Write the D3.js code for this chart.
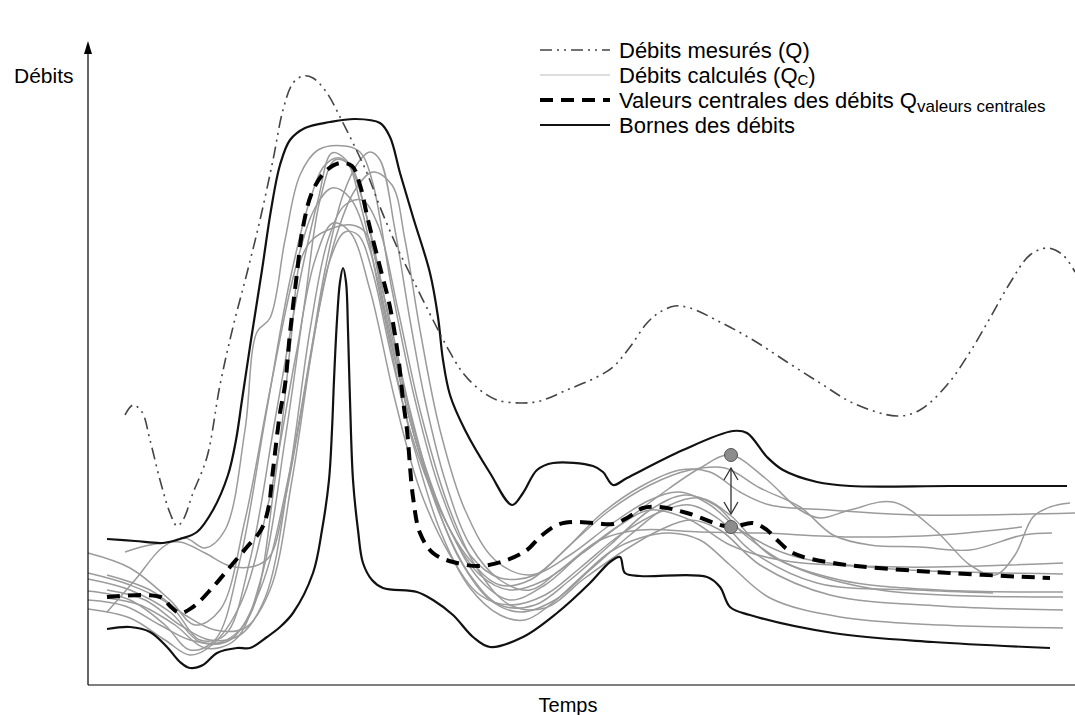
<!DOCTYPE html>
<html lang="fr">
  <head>
    <meta charset="utf-8" />
    <title>Débits</title>
    <script src="https://cdn.jsdelivr.net/npm/d3@7"></script>
    <style>
      body { margin: 0; background: #fff; }
      text { font-family: Arial, "Liberation Sans", sans-serif; fill: #000; }
    </style>
  </head>
  <body>
    <script>
      // [temps, débit] (unités arbitraires)
      const mesures = [[37,270],[45,280],[54,273],[62,245],[72,205],[82,172],[89,159],[95,165],[105,192],[119,228],[132,300],[145,358],[159,412],[172,465],[185,525],[195,575],[205,602],[215,609],[225,607],[239,592],[252,568],[265,542],[279,512],[292,478],[309,438],[325,405],[345,365],[359,338],[375,312],[392,295],[409,285],[432,282],[452,284],[479,295],[509,308],[525,318],[542,338],[559,362],[572,373],[587,379],[602,377],[632,363],[665,345],[699,323],[732,302],[765,282],[809,269],[832,275],[859,300],[882,333],[902,367],[922,402],[942,430],[960,437],[975,430],[987,413]];

      const borneSup = [[19,146],[47,144],[75,142],[92,146],[109,153],[125,175],[140,210],[148,245],[154,285],[163,345],[174,415],[183,475],[192,520],[202,545],[217,557],[242,563],[267,566],[292,562],[302,548],[312,512],[325,468],[342,412],[350,368],[355,325],[362,290],[377,255],[402,212],[424,180],[435,192],[449,215],[465,222],[505,219],[515,213],[525,200],[539,207],[595,235],[645,254],[659,252],[679,228],[695,215],[729,203],[762,199],[862,199],[979,199]];

      const borneInf = [[19,56],[42,58],[62,53],[79,38],[92,23],[102,17],[115,20],[129,32],[149,37],[162,37],[179,48],[192,58],[205,72],[225,112],[234,155],[241,205],[244,255],[246,305],[249,365],[252,403],[255,417],[258,403],[260,355],[262,285],[265,205],[270,155],[275,122],[284,105],[295,97],[329,93],[345,85],[365,70],[385,48],[402,38],[435,48],[469,72],[502,102],[522,123],[532,128],[537,112],[552,109],[619,108],[632,98],[642,78],[662,70],[745,52],[845,43],[962,37]];

      const centrales = [[19,88],[59,90],[75,87],[82,79],[92,72],[105,78],[125,98],[142,118],[159,138],[173,155],[180,175],[185,215],[192,272],[197,300],[202,352],[209,412],[215,458],[225,495],[239,515],[252,522],[264,519],[272,500],[280,465],[292,418],[302,378],[310,330],[315,285],[319,255],[325,188],[332,152],[345,132],[365,123],[392,119],[419,125],[439,135],[452,148],[469,160],[485,163],[505,162],[525,161],[539,167],[555,177],[572,178],[599,172],[642,158],[665,162],[679,155],[689,145],[705,132],[745,122],[845,113],[962,107]];

      const calcules = [
        [[0,94],[42,85],[77,60],[102,35],[127,45],[152,125],[177,265],[202,405],[222,485],[237,520],[252,527],[264,515],[282,455],[307,335],[332,235],[362,155],[392,110],[422,95],[457,105],[492,130],[532,160],[572,190],[612,217],[642,230],[677,207],[712,175],[732,167],[762,175],[805,183],[847,155],[882,120],[907,110],[927,130],[945,168],[962,178],[982,182]],
        [[19,73],[47,105],[75,138],[97,147],[117,137],[137,155],[157,255],[169,353],[182,367],[197,445],[212,510],[230,535],[257,539],[272,533],[284,505],[304,395],[327,285],[352,195],[382,130],[412,107],[447,110],[477,135],[512,170],[552,198],[592,215],[622,213],[652,193],[682,180],[742,175],[832,170],[987,172]],
        [[0,112],[42,100],[82,80],[112,45],[137,50],[162,125],[187,265],[212,405],[230,485],[244,532],[258,525],[274,475],[297,365],[322,255],[352,175],[382,125],[412,100],[442,105],[482,140],[522,175],[562,200],[602,215],[637,217],[672,197],[712,178],[745,150],[782,140],[832,138],[882,135],[935,150],[964,152]],
        [[37,133],[62,140],[92,143],[117,132],[142,119],[167,119],[182,129],[197,185],[217,295],[237,415],[255,490],[272,525],[282,533],[292,525],[307,455],[322,365],[337,285],[357,205],[382,140],[412,105],[442,95],[472,115],[512,145],[552,155],[612,153],[672,152],[762,148],[852,150],[934,158]],
        [[0,132],[42,117],[82,85],[107,60],[132,75],[157,165],[182,295],[207,415],[227,477],[244,497],[262,487],[282,435],[307,325],[332,230],[362,155],[392,105],[422,85],[457,100],[492,130],[532,160],[562,175],[602,165],[642,140],[692,125],[812,118],[975,122]],
        [[0,106],[42,95],[82,73],[112,43],[142,45],[172,95],[202,215],[227,355],[247,445],[267,495],[285,513],[304,500],[317,445],[332,355],[352,255],[377,175],[407,125],[442,110],[482,130],[522,160],[562,185],[592,193],[622,180],[652,155],[702,130],[792,117],[975,111]],
        [[0,76],[42,67],[77,45],[102,30],[124,40],[152,80],[180,180],[207,325],[227,425],[245,462],[262,453],[282,395],[307,285],[332,195],[362,130],[392,90],[422,80],[457,90],[492,117],[532,150],[572,173],[602,180],[632,165],[662,135],[729,102],[829,95],[905,92]],
        [[0,85],[37,79],[72,60],[102,45],[134,43],[162,70],[187,205],[204,355],[212,423],[224,445],[245,457],[264,460],[277,453],[297,385],[322,275],[347,185],[372,125],[402,85],[432,73],[467,85],[502,115],[542,150],[582,180],[612,187],[642,170],[682,130],[752,105],[852,95],[975,93]],
        [[19,87],[52,80],[87,60],[117,37],[147,45],[174,110],[197,245],[217,385],[232,485],[247,525],[262,520],[277,475],[297,375],[322,265],[352,170],[382,110],[412,80],[447,80],[482,105],[522,140],[562,175],[597,190],[627,180],[657,150],[702,120],[792,95],[975,88]],
        [[19,95],[57,85],[92,60],[122,45],[152,50],[177,87],[202,215],[222,355],[240,445],[257,480],[274,485],[290,460],[310,375],[332,275],[360,180],[390,115],[422,80],[457,77],[497,107],[537,135],[572,155],[602,165],[632,155],[672,120],[742,90],[852,79],[975,75]],
        [[19,110],[62,95],[97,70],[127,55],[157,57],[182,95],[204,205],[224,335],[242,425],[257,453],[270,450],[284,415],[302,335],[324,245],[352,155],[382,97],[412,70],[437,65],[462,80],[492,107],[522,133],[552,147],[582,152],[612,145],[642,120],[682,87],[752,68],[852,60],[975,57]]
      ];

      // écart entre un débit calculé et la valeur centrale
      const ecart = { t: 643, haut: 230, bas: 158 };

      const legende = [
        { label: "Débits mesurés (Q)", style: "mesure" },
        { label: "Débits calculés (Q", sub: "C", after: ")", style: "calc" },
        { label: "Valeurs centrales des débits Q", sub: "valeurs centrales", style: "centre" },
        { label: "Bornes des débits", style: "borne" }
      ];

      const styles = {
        mesure: { stroke: "#444", width: 1.6, dash: "12,5,2,5,2,5" },
        calc: { stroke: "#9b9b9b", width: 1.5, dash: null },
        centre: { stroke: "#000", width: 4, dash: "13,8" },
        borne: { stroke: "#111", width: 2.2, dash: null }
      };

      const W = 1075, H = 715;

      const svg = d3.select("body").append("svg")
        .attr("width", W)
        .attr("height", H);

      const x = d3.scaleLinear().domain([0, 987]).range([88, 1075]);
      const y = d3.scaleLinear().domain([0, 640]).range([685, 45]);

      const line = d3.line()
        .x(d => x(d[0]))
        .y(d => y(d[1]))
        .curve(d3.curveCatmullRom.alpha(0.5));

      function trace(data, s) {
        const st = styles[s];
        svg.append("path")
          .attr("d", line(data))
          .attr("fill", "none")
          .attr("stroke", st.stroke)
          .attr("stroke-width", st.width)
          .attr("stroke-dasharray", st.dash)
          .attr("stroke-linejoin", "round");
      }

      // débits calculés
      calcules.forEach(c => trace(c, "calc"));
      // bornes
      trace(borneSup, "borne");
      trace(borneInf, "borne");
      // valeurs centrales
      trace(centrales, "centre");
      // débits mesurés
      trace(mesures, "mesure");

      // axes
      svg.append("line")
        .attr("x1", x(0)).attr("y1", y(0))
        .attr("x2", x(987)).attr("y2", y(0))
        .attr("stroke", "#000").attr("stroke-width", 1.2);
      svg.append("line")
        .attr("x1", x(0)).attr("y1", y(0))
        .attr("x2", x(0)).attr("y2", 50)
        .attr("stroke", "#000").attr("stroke-width", 1.2);
      svg.append("path")
        .attr("d", `M${x(0)},41 L${x(0) - 4},54 L${x(0) + 4},54 Z`)
        .attr("fill", "#000");

      svg.append("text").attr("x", 14).attr("y", 83)
        .attr("font-size", 21).text("Débits");
      svg.append("text").attr("x", 568).attr("y", 712)
        .attr("text-anchor", "middle")
        .attr("font-size", 20).text("Temps");

      // flèche double + points
      const ax = x(ecart.t);
      const yTop = y(ecart.haut) + 13, yBot = y(ecart.bas) - 13;
      svg.append("line")
        .attr("x1", ax).attr("y1", yTop).attr("x2", ax).attr("y2", yBot)
        .attr("stroke", "#333").attr("stroke-width", 1.3);
      svg.append("path")
        .attr("d", `M${ax - 7},${yTop + 12} L${ax},${yTop} L${ax + 7},${yTop + 12}
                    M${ax - 7},${yBot - 12} L${ax},${yBot} L${ax + 7},${yBot - 12}`)
        .attr("fill", "none").attr("stroke", "#333").attr("stroke-width", 1.3);
      svg.selectAll("circle.pt")
        .data([ecart.haut, ecart.bas])
        .enter()
        .append("circle")
        .attr("class", "pt")
        .attr("cx", ax)
        .attr("cy", d => y(d))
        .attr("r", 6.5)
        .attr("fill", "#8c8c8c")
        .attr("stroke", "#555")
        .attr("stroke-width", 1);

      // légende
      const leg = svg.append("g");
      legende.forEach((d, i) => {
        const cy = 50 + i * 25;
        const st = styles[d.style];
        leg.append("line")
          .attr("x1", 540).attr("x2", 610)
          .attr("y1", cy).attr("y2", cy)
          .attr("stroke", d.style === "calc" ? "#bbb" : st.stroke)
          .attr("stroke-width", d.style === "calc" ? 1.2 : st.width)
          .attr("stroke-dasharray", st.dash);
        const t = leg.append("text")
          .attr("x", 619).attr("y", cy + 8)
          .attr("font-size", 22);
        t.append("tspan").text(d.label);
        if (d.sub) {
          t.append("tspan")
            .attr("font-size", d.style === "calc" ? 15 : 17)
            .attr("dy", d.style === "calc" ? 2 : 4)
            .text(d.sub);
        }
        if (d.after) {
          t.append("tspan").attr("dy", -2).text(d.after);
        }
      });
    </script>
  </body>
</html>
